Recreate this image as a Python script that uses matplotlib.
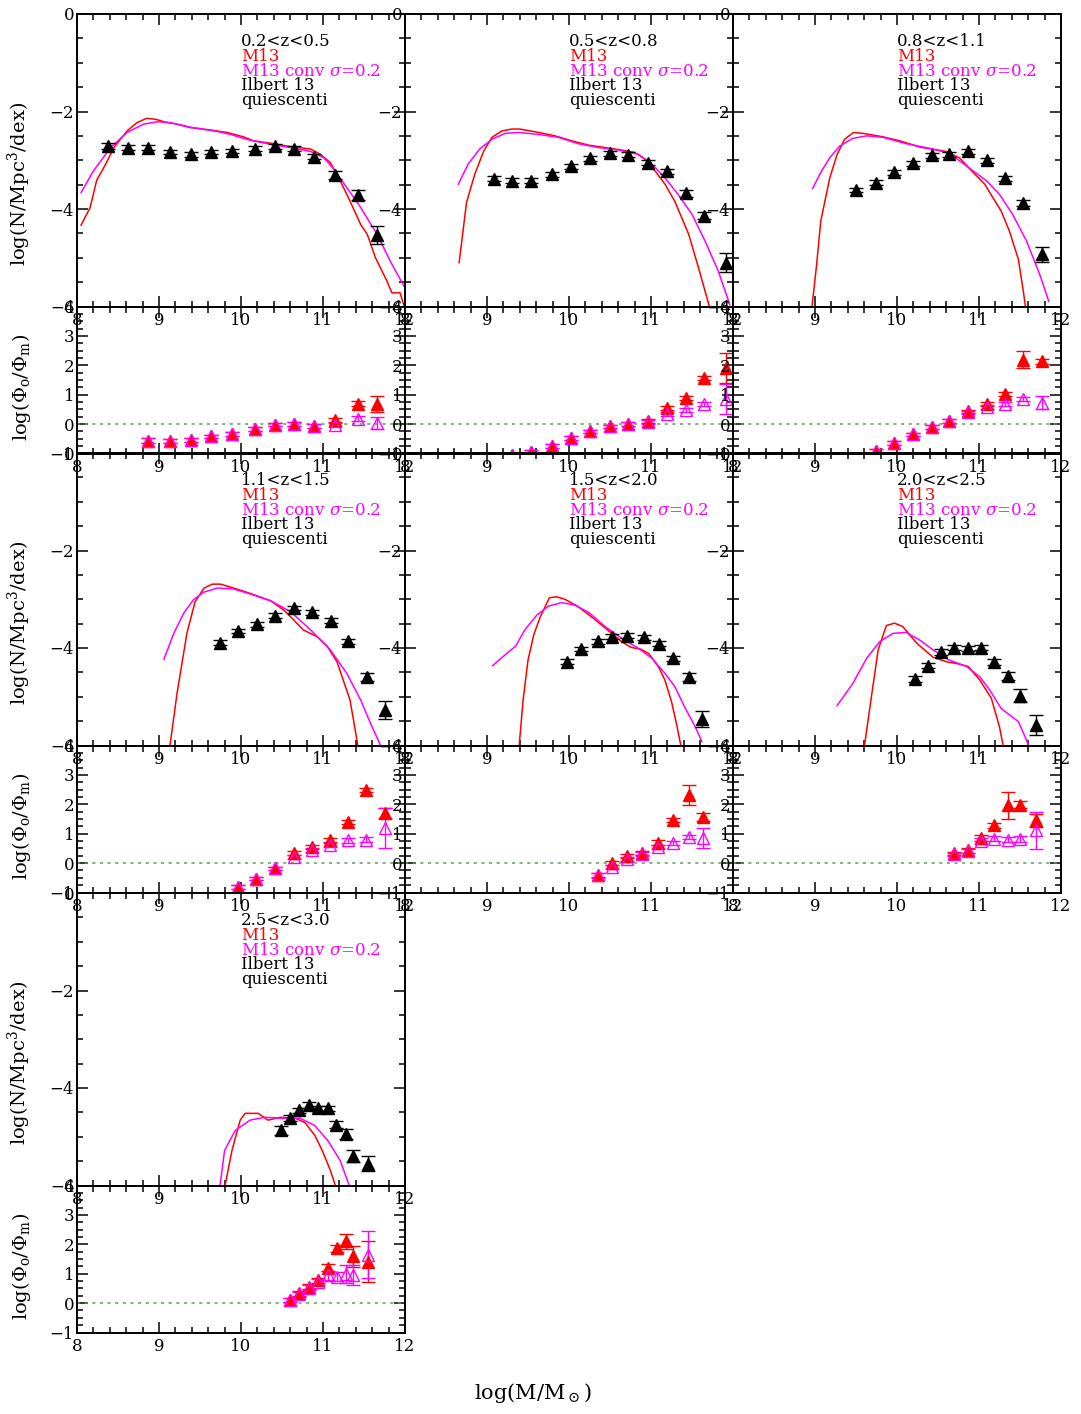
import matplotlib
matplotlib.use("Agg")
import matplotlib.pyplot as plt
from matplotlib.ticker import MultipleLocator

plt.rcParams["font.family"] = "DejaVu Serif"
plt.rcParams["mathtext.fontset"] = "dejavuserif"

# redshift bins, one panel pair (mass function + ratio) per bin
z_bins = ["0.2<z<0.5", "0.5<z<0.8", "0.8<z<1.1", "1.1<z<1.5",
          "1.5<z<2.0", "2.0<z<2.5", "2.5<z<3.0"]

# Ilbert+13 quiescent mass function: log M, log phi, error
obs_mass = [
    [8.38, 8.62, 8.86, 9.13, 9.39, 9.64, 9.89, 10.17, 10.41, 10.65, 10.89, 11.15, 11.43, 11.66],
    [9.09, 9.31, 9.54, 9.79, 10.03, 10.26, 10.50, 10.72, 10.96, 11.20, 11.43, 11.65, 11.91],
    [9.50, 9.74, 9.96, 10.20, 10.43, 10.64, 10.87, 11.10, 11.32, 11.54, 11.77],
    [9.74, 9.96, 10.19, 10.42, 10.65, 10.87, 11.10, 11.31, 11.54, 11.76],
    [9.97, 10.15, 10.35, 10.53, 10.71, 10.91, 11.10, 11.27, 11.46, 11.62],
    [10.22, 10.38, 10.54, 10.70, 10.86, 11.02, 11.18, 11.35, 11.50, 11.69],
    [10.49, 10.60, 10.71, 10.83, 10.94, 11.06, 11.16, 11.28, 11.37, 11.55],
]
obs_phi = [
    [-2.71, -2.74, -2.74, -2.83, -2.88, -2.83, -2.81, -2.76, -2.71, -2.76, -2.93, -3.30, -3.71, -4.53],
    [-3.38, -3.42, -3.42, -3.29, -3.12, -2.96, -2.86, -2.89, -3.05, -3.23, -3.68, -4.14, -5.10],
    [-3.61, -3.46, -3.25, -3.06, -2.90, -2.88, -2.82, -3.00, -3.37, -3.88, -4.93],
    [-3.89, -3.65, -3.51, -3.34, -3.18, -3.27, -3.44, -3.86, -4.59, -5.27],
    [-4.28, -4.02, -3.86, -3.77, -3.75, -3.78, -3.91, -4.21, -4.59, -5.46],
    [-4.64, -4.36, -4.08, -3.99, -4.01, -3.99, -4.29, -4.57, -4.98, -5.58],
    [-4.87, -4.62, -4.46, -4.34, -4.42, -4.42, -4.75, -4.95, -5.40, -5.55],
]
obs_err = [
    [0.06, 0.05, 0.05, 0.05, 0.05, 0.05, 0.05, 0.05, 0.05, 0.05, 0.05, 0.08, 0.10, 0.18],
    [0.05, 0.05, 0.05, 0.05, 0.05, 0.05, 0.05, 0.05, 0.05, 0.05, 0.07, 0.07, 0.19],
    [0.05, 0.05, 0.05, 0.05, 0.05, 0.05, 0.05, 0.05, 0.05, 0.06, 0.16],
    [0.05, 0.05, 0.05, 0.05, 0.05, 0.05, 0.05, 0.05, 0.08, 0.19],
    [0.05, 0.05, 0.05, 0.05, 0.05, 0.05, 0.05, 0.05, 0.08, 0.17],
    [0.06, 0.06, 0.06, 0.06, 0.06, 0.06, 0.06, 0.08, 0.13, 0.20],
    [0.10, 0.06, 0.06, 0.06, 0.06, 0.06, 0.08, 0.10, 0.12, 0.15],
]

# M13 model mass function
m13_mass = [
    [8.05, 8.16, 8.24, 8.35, 8.45, 8.61, 8.73, 8.85, 8.96, 9.06, 9.22, 9.38, 9.63, 9.83, 10.03,
     10.15, 10.36, 10.60, 10.85, 10.97, 11.09, 11.21, 11.33, 11.46, 11.54, 11.64, 11.78, 11.84, 11.94, 12.0],
    [8.66, 8.75, 8.85, 8.96, 9.06, 9.18, 9.30, 9.40, 9.63, 9.83, 10.03, 10.24, 10.44, 10.64,
     10.80, 10.93, 11.05, 11.17, 11.29, 11.46, 11.58, 11.72],
    [8.96, 9.02, 9.07, 9.18, 9.27, 9.36, 9.47, 9.59, 9.83, 10.03, 10.28, 10.60, 10.76, 10.93,
     11.07, 11.17, 11.27, 11.37, 11.48, 11.54, 11.57],
    [9.13, 9.22, 9.34, 9.44, 9.55, 9.65, 9.75, 9.91, 10.11, 10.36, 10.52, 10.64, 10.76, 10.93,
     11.05, 11.17, 11.33, 11.43],
    [9.39, 9.44, 9.50, 9.57, 9.65, 9.76, 9.85, 9.95, 10.11, 10.32, 10.52, 10.64, 10.76, 10.87,
     10.97, 11.09, 11.17, 11.25, 11.31, 11.37],
    [9.60, 9.67, 9.77, 9.87, 9.97, 10.07, 10.24, 10.44, 10.60, 10.76, 10.87, 11.01, 11.15, 11.25, 11.30],
    [9.80, 9.89, 9.99, 10.05, 10.21, 10.33, 10.48, 10.66, 10.78, 10.90, 10.99, 11.09, 11.16],
]
m13_phi = [
    [-4.33, -3.97, -3.41, -3.08, -2.74, -2.40, -2.23, -2.14, -2.16, -2.21, -2.26, -2.33, -2.38, -2.43, -2.52,
     -2.60, -2.65, -2.72, -2.77, -2.88, -3.05, -3.42, -3.84, -4.32, -4.52, -5.00, -5.48, -5.72, -5.72, -6.05],
    [-5.10, -3.87, -3.29, -2.81, -2.53, -2.40, -2.36, -2.36, -2.43, -2.50, -2.60, -2.69, -2.74, -2.79,
     -2.84, -2.98, -3.22, -3.49, -3.84, -4.52, -5.21, -6.05],
    [-6.05, -5.14, -4.25, -3.36, -2.88, -2.57, -2.43, -2.45, -2.52, -2.60, -2.73, -2.82, -2.95, -3.25,
     -3.49, -3.77, -4.04, -4.45, -5.03, -5.68, -6.05],
    [-6.05, -4.93, -3.70, -3.05, -2.77, -2.69, -2.69, -2.77, -2.88, -3.03, -3.22, -3.42, -3.63, -3.77,
     -3.96, -4.28, -5.07, -6.05],
    [-6.05, -5.07, -4.25, -3.73, -3.36, -2.97, -2.95, -3.00, -3.15, -3.42, -3.70, -3.87, -3.99, -4.02,
     -4.11, -4.38, -4.66, -5.10, -5.55, -6.05],
    [-6.05, -5.21, -4.04, -3.54, -3.49, -3.56, -3.90, -4.19, -4.28, -4.33, -4.38, -4.66, -5.03, -5.62, -6.05],
    [-6.05, -5.28, -4.66, -4.52, -4.52, -4.66, -4.60, -4.62, -4.71, -4.97, -5.28, -5.69, -6.05],
]

# M13 convolved with sigma = 0.2 dex
conv_mass = [
    [8.05, 8.20, 8.41, 8.61, 8.81, 8.98, 9.14, 9.38, 9.71, 9.87, 10.11, 10.36, 10.60, 10.85,
     11.01, 11.13, 11.29, 11.46, 11.66, 11.82, 12.0],
    [8.65, 8.77, 8.91, 9.06, 9.22, 9.38, 9.63, 9.87, 10.11, 10.36, 10.60, 10.85, 11.01, 11.17,
     11.33, 11.50, 11.66, 11.82, 11.96],
    [8.97, 9.08, 9.18, 9.30, 9.46, 9.63, 9.83, 10.11, 10.44, 10.64, 10.85, 11.09, 11.25, 11.41,
     11.58, 11.74, 11.85],
    [9.06, 9.18, 9.30, 9.42, 9.54, 9.71, 9.91, 10.11, 10.36, 10.60, 10.85, 11.09, 11.29, 11.46,
     11.58, 11.70],
    [9.07, 9.22, 9.35, 9.46, 9.61, 9.75, 9.91, 10.07, 10.24, 10.44, 10.64, 10.85, 11.01, 11.17,
     11.29, 11.41, 11.54, 11.62],
    [9.27, 9.46, 9.63, 9.79, 9.95, 10.11, 10.28, 10.44, 10.64, 10.85, 11.01, 11.13, 11.27, 11.48,
     11.58, 11.61],
    [9.74, 9.80, 9.93, 10.11, 10.29, 10.48, 10.72, 10.90, 11.06, 11.21, 11.33],
]
conv_phi = [
    [-3.66, -3.22, -2.74, -2.43, -2.26, -2.21, -2.23, -2.32, -2.41, -2.47, -2.59, -2.67, -2.74, -2.82,
     -2.95, -3.18, -3.56, -3.97, -4.52, -5.07, -5.62],
    [-3.49, -3.08, -2.77, -2.57, -2.45, -2.43, -2.47, -2.53, -2.66, -2.74, -2.79, -2.88, -3.08, -3.36,
     -3.70, -4.11, -4.66, -5.27, -5.96],
    [-3.58, -3.22, -2.95, -2.71, -2.55, -2.50, -2.53, -2.66, -2.77, -2.86, -3.12, -3.42, -3.70, -4.11,
     -4.66, -5.34, -5.89],
    [-4.23, -3.70, -3.29, -3.01, -2.86, -2.77, -2.79, -2.89, -3.03, -3.25, -3.63, -4.04, -4.52, -5.07,
     -5.55, -5.99],
    [-4.36, -4.14, -3.96, -3.63, -3.32, -3.14, -3.07, -3.12, -3.27, -3.56, -3.80, -4.01, -4.21, -4.52,
     -4.79, -5.21, -5.62, -5.92],
    [-5.18, -4.73, -4.21, -3.87, -3.70, -3.68, -3.84, -4.04, -4.25, -4.38, -4.59, -4.86, -5.24, -5.51,
     -5.89, -6.05],
    [-6.05, -5.28, -4.87, -4.66, -4.60, -4.62, -4.62, -4.77, -5.08, -5.49, -6.05],
]

# log(phi_obs / phi_model) for plain M13 and convolved M13
ratio_mass = [
    [8.87, 9.13, 9.39, 9.64, 9.89, 10.17, 10.41, 10.65, 10.89, 11.15, 11.43, 11.66],
    [9.31, 9.54, 9.79, 10.03, 10.26, 10.50, 10.72, 10.96, 11.20, 11.43, 11.65, 11.91],
    [9.74, 9.96, 10.20, 10.43, 10.64, 10.87, 11.10, 11.32, 11.54, 11.77],
    [9.96, 10.18, 10.42, 10.65, 10.87, 11.09, 11.31, 11.53, 11.75],
    [10.35, 10.53, 10.71, 10.89, 11.09, 11.27, 11.46, 11.63],
    [10.70, 10.86, 11.02, 11.18, 11.35, 11.50, 11.69],
    [10.60, 10.71, 10.83, 10.94, 11.06, 11.17, 11.28, 11.37, 11.55],
]
ratio_m13 = [
    [-0.56, -0.58, -0.54, -0.42, -0.33, -0.16, -0.02, 0.01, -0.07, 0.15, 0.69, 0.69],
    [-1.05, -0.95, -0.75, -0.48, -0.25, -0.08, 0.01, 0.10, 0.55, 0.89, 1.57, 1.91],
    [-0.92, -0.64, -0.35, -0.10, 0.10, 0.43, 0.69, 1.03, 2.19, 2.14],
    [-0.82, -0.53, -0.18, 0.35, 0.55, 0.80, 1.39, 2.50, 1.71],
    [-0.39, 0.01, 0.23, 0.33, 0.69, 1.46, 2.31, 1.57],
    [0.33, 0.43, 0.86, 1.28, 1.97, 1.99, 1.46],
    [0.12, 0.33, 0.56, 0.77, 1.21, 1.86, 2.10, 1.59, 1.41],
]
ratio_m13_err = [
    [0.08, 0.06, 0.06, 0.06, 0.06, 0.06, 0.06, 0.06, 0.06, 0.07, 0.08, 0.28],
    [0.07, 0.06, 0.06, 0.06, 0.06, 0.06, 0.06, 0.06, 0.06, 0.07, 0.07, 0.50],
    [0.06, 0.06, 0.06, 0.06, 0.06, 0.06, 0.06, 0.07, 0.28, 0.08],
    [0.06, 0.06, 0.06, 0.07, 0.07, 0.07, 0.07, 0.07, 0.17],
    [0.07, 0.07, 0.07, 0.07, 0.08, 0.07, 0.34, 0.14],
    [0.06, 0.07, 0.10, 0.08, 0.46, 0.12, 0.22],
    [0.07, 0.08, 0.08, 0.10, 0.12, 0.12, 0.25, 0.35, 0.70],
]
ratio_conv = [
    [-0.56, -0.58, -0.54, -0.42, -0.33, -0.16, -0.02, 0.01, -0.07, -0.03, 0.18, 0.03],
    [-1.05, -0.95, -0.75, -0.48, -0.25, -0.08, 0.00, 0.08, 0.35, 0.49, 0.67, 0.86],
    [-0.92, -0.64, -0.35, -0.10, 0.10, 0.40, 0.58, 0.67, 0.85, 0.73],
    [-0.82, -0.53, -0.18, 0.22, 0.44, 0.63, 0.77, 0.80, 1.20],
    [-0.42, -0.13, 0.14, 0.30, 0.55, 0.67, 0.89, 0.86],
    [0.30, 0.40, 0.75, 0.83, 0.80, 0.83, 1.12],
    [0.12, 0.30, 0.52, 0.72, 0.94, 0.90, 1.00, 0.95, 1.65],
]
ratio_conv_err = [
    [0.08, 0.06, 0.06, 0.06, 0.06, 0.06, 0.06, 0.06, 0.06, 0.07, 0.08, 0.21],
    [0.07, 0.06, 0.06, 0.06, 0.06, 0.06, 0.06, 0.06, 0.06, 0.07, 0.07, 0.51],
    [0.06, 0.06, 0.06, 0.06, 0.06, 0.06, 0.07, 0.07, 0.08, 0.21],
    [0.06, 0.06, 0.06, 0.07, 0.07, 0.07, 0.08, 0.08, 0.68],
    [0.07, 0.07, 0.07, 0.07, 0.08, 0.07, 0.08, 0.33],
    [0.06, 0.07, 0.10, 0.08, 0.08, 0.10, 0.63],
    [0.07, 0.08, 0.08, 0.10, 0.15, 0.15, 0.30, 0.35, 0.80],
]

legend_lines = [("M13", "#ff0000"), (r"M13 conv $\sigma$=0.2", "#ff00ff"),
                ("Ilbert 13", "black"), ("quiescenti", "black")]

W, H = 1081, 1414
col_left = [77, 405, 733]
row_top = [14, 453, 893]
panel_w, top_h, rat_h = 328, 292.5, 147


def style_axis(ax, ymajor, yminor):
    ax.set_facecolor("none")
    ax.set_xlim(8, 12)
    ax.xaxis.set_major_locator(MultipleLocator(1))
    ax.xaxis.set_minor_locator(MultipleLocator(0.2))
    ax.yaxis.set_major_locator(MultipleLocator(ymajor))
    ax.yaxis.set_minor_locator(MultipleLocator(yminor))
    ax.tick_params(which="both", direction="in", top=True, right=True,
                   labelsize=12, width=1.1)
    ax.tick_params(which="major", length=8)
    ax.tick_params(which="minor", length=4)
    ax.tick_params(axis="x", pad=4)
    ax.tick_params(axis="y", pad=2)
    for sp in ax.spines.values():
        sp.set_linewidth(1.4)


fig = plt.figure(figsize=(W / 100, H / 100), dpi=100)

for i, zlab in enumerate(z_bins):
    row, col = divmod(i, 3)
    x0 = col_left[col] / W
    top_bottom = 1 - (row_top[row] + top_h) / H
    rat_bottom = 1 - (row_top[row] + top_h + rat_h) / H

    ax = fig.add_axes([x0, top_bottom, panel_w / W, top_h / H])
    axr = fig.add_axes([x0, rat_bottom, panel_w / W, rat_h / H])

    # mass function panel
    ax.plot(m13_mass[i], m13_phi[i], color="#ff0000", lw=1.1)
    ax.plot(conv_mass[i], conv_phi[i], color="#ff00ff", lw=1.1)
    ax.errorbar(obs_mass[i], obs_phi[i], yerr=obs_err[i], fmt="^", color="black",
                ms=8.5, elinewidth=1, capsize=5, capthick=1)
    ax.set_ylim(-6, 0)
    style_axis(ax, 2, 0.5)

    ax.text(0.5, 0.905, zlab, transform=ax.transAxes, fontsize=12, va="center")
    for k, (txt, c) in enumerate(legend_lines):
        ax.text(0.5, 0.855 - 0.0505 * k, txt, transform=ax.transAxes,
                fontsize=12, va="center", color=c)

    # ratio panel
    axr.axhline(0, color="#5c9c5c", lw=1.1, ls=(0, (2, 3)))
    axr.errorbar(ratio_mass[i], ratio_m13[i], yerr=ratio_m13_err[i], fmt="^",
                 color="#ff0000", ms=8, elinewidth=1, capsize=5, capthick=1)
    axr.errorbar(ratio_mass[i], ratio_conv[i], yerr=ratio_conv_err[i], fmt="^",
                 color="#ff00ff", mfc="none", mec="#ff00ff", ms=8, mew=1,
                 elinewidth=1, capsize=5, capthick=1)
    axr.set_ylim(-1, 4)
    style_axis(axr, 1, 0.25)

    if col == 0:
        ax.set_ylabel(r"log(N/Mpc$^3$/dex)", fontsize=14)
        ax.yaxis.set_label_coords(-0.135, 0.42)
        axr.set_ylabel(r"log($\Phi_{\rm o}/\Phi_{\rm m}$)", fontsize=14)
        axr.yaxis.set_label_coords(-0.135, 0.45)

fig.text(533 / W, 1 - 1393 / H, r"log(M/M$_\odot$)", fontsize=15,
         ha="center", va="center")

fig.savefig("out.png", dpi=100)
